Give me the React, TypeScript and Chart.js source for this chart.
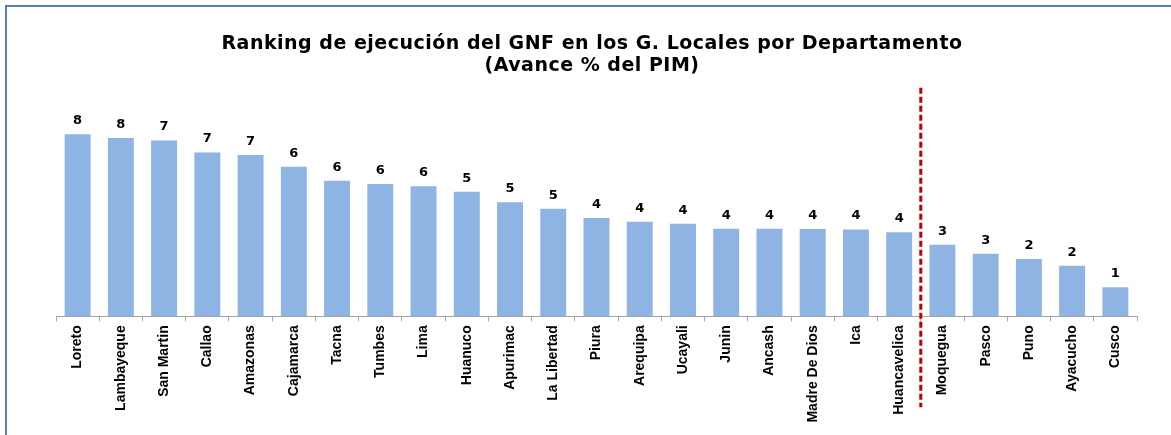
import React, { useEffect, useRef } from "react";
import { Chart, registerables } from "chart.js";

Chart.register(...registerables);

const departamentos: string[] = [
  "Loreto", "Lambayeque", "San Martin", "Callao", "Amazonas", "Cajamarca", "Tacna", "Tumbes",
  "Lima", "Huanuco", "Apurimac", "La Libertad", "Piura", "Arequipa", "Ucayali", "Junin",
  "Ancash", "Madre De Dios", "Ica", "Huancavelica", "Moquegua", "Pasco", "Puno", "Ayacucho", "Cusco",
];

const avancePIM: number[] = [
  7.73, 7.57, 7.47, 6.96, 6.85, 6.35, 5.76, 5.62,
  5.52, 5.29, 4.84, 4.57, 4.17, 4.02, 3.93, 3.72,
  3.72, 3.71, 3.69, 3.57, 3.04, 2.66, 2.43, 2.15, 1.23,
];

const tituloLineas: string[] = [
  "Ranking de ejecución del GNF en los G. Locales por Departamento",
  "(Avance % del PIM)",
];

// the separator line is drawn between this department and the next one
const separadorDespuesDe = "Huancavelica";

const BAR_COLOR = "#8EB4E3";

const titlePlugin = {
  id: "customTitle",
  afterDraw(chart: any) {
    const ctx = chart.ctx;
    ctx.save();
    ctx.font = "bold 19px 'DejaVu Sans', sans-serif";
    (ctx as any).letterSpacing = "0.5px";
    ctx.fillStyle = "#000";
    ctx.textAlign = "center";
    ctx.textBaseline = "middle";
    const cx = 592;
    tituloLineas.forEach((line, i) => {
      ctx.fillText(line, cx, 44 + i * 22);
    });
    ctx.restore();
  },
};

const valueLabelsPlugin = {
  id: "valueLabels",
  afterDatasetsDraw(chart: any) {
    const ctx = chart.ctx;
    const meta = chart.getDatasetMeta(0);
    ctx.save();
    ctx.font = "bold 13px 'DejaVu Sans', sans-serif";
    ctx.fillStyle = "#000";
    ctx.textAlign = "center";
    ctx.textBaseline = "alphabetic";
    meta.data.forEach((bar: any, i: number) => {
      const v = chart.data.datasets[0].data[i] as number;
      ctx.fillText(String(Math.round(v)), bar.x, bar.y - 10);
    });
    ctx.restore();
  },
};

const separatorPlugin = {
  id: "separator",
  afterDraw(chart: any) {
    const xs = chart.scales.x;
    const idx = departamentos.indexOf(separadorDespuesDe);
    const x = (xs.getPixelForValue(idx) + xs.getPixelForValue(idx + 1)) / 2;
    const { top, bottom } = chart.chartArea;
    const ctx = chart.ctx;
    ctx.save();
    ctx.strokeStyle = "#C00000";
    ctx.lineWidth = 3;
    ctx.setLineDash([6, 3]);
    ctx.beginPath();
    ctx.moveTo(x, top + 7);
    ctx.lineTo(x, bottom + 91);
    ctx.stroke();
    ctx.restore();
  },
};

export default function App() {
  const canvasRef = useRef<HTMLCanvasElement | null>(null);

  useEffect(() => {
    const canvas = canvasRef.current;
    if (!canvas) return;
    const chart = new Chart(canvas, {
      type: "bar",
      data: {
        labels: departamentos,
        datasets: [
          {
            data: avancePIM,
            backgroundColor: BAR_COLOR,
            borderWidth: 0,
            barPercentage: 0.6,
            categoryPercentage: 1.0,
          },
        ],
      },
      options: {
        responsive: false,
        animation: false,
        layout: { padding: { left: 56, right: 34, top: 80.8, bottom: 0 } },
        plugins: {
          legend: { display: false },
          tooltip: { enabled: false },
          title: { display: false },
        },
        scales: {
          y: {
            display: false,
            min: 0,
            max: 10,
          },
          x: {
            afterFit: (scale: any) => {
              scale.height = 118.7;
            },
            grid: {
              display: true,
              offset: true,
              drawOnChartArea: false,
              drawTicks: true,
              tickLength: 5,
              color: "#A6A6A6",
            },
            border: { display: true, color: "#A6A6A6", width: 1 },
            ticks: {
              autoSkip: false,
              maxRotation: 90,
              minRotation: 90,
              padding: 4,
              color: "#000",
              font: { family: "'Liberation Sans Narrow', 'Arial Narrow', sans-serif", size: 14, weight: "bold" },
            },
          },
        },
      },
      plugins: [valueLabelsPlugin, separatorPlugin, titlePlugin],
    });
    return () => chart.destroy();
  }, []);

  return (
    <div style={{ position: "fixed", left: 0, top: 0, width: 1171, height: 435, background: "#fff", overflow: "hidden" }}>
      <div
        style={{
          position: "absolute",
          left: 5,
          top: 5,
          width: 1300,
          height: 600,
          borderLeft: "2px solid #5A7FB3",
          borderTop: "2px solid #5A7FB3",
        }}
      />
      <canvas ref={canvasRef} width={1171} height={435} style={{ position: "absolute", left: 0, top: 0 }} />
    </div>
  );
}
